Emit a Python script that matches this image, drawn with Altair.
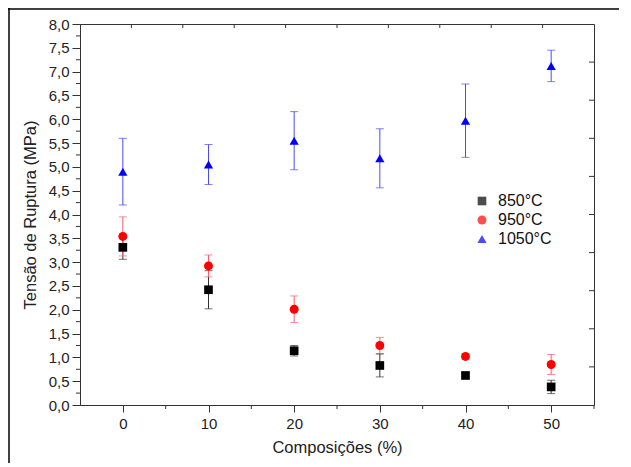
import altair as alt
import pandas as pd

# ---- data ----
comp = [0, 10, 20, 30, 40, 50]
series = ["850°C", "950°C", "1050°C"]
t850 = [3.31, 2.42, 1.14, 0.83, 0.62, 0.38]
e850 = [0.25, 0.40, 0.11, 0.24, 0.05, 0.14]
t950 = [3.54, 2.92, 2.01, 1.25, 1.02, 0.85]
e950 = [0.41, 0.23, 0.28, 0.17, 0.06, 0.21]
t1050 = [4.90, 5.05, 5.55, 5.18, 5.97, 7.12]
e1050 = [0.70, 0.42, 0.61, 0.62, 0.77, 0.33]

x_major = [0, 10, 20, 30, 40, 50]
x_minor = [5, 15, 25, 35, 45, 55]
x_top = [1, 7, 13, 19, 25, 31, 37, 43, 49]
y_major = [i * 0.5 for i in range(17)]
y_minor = [0.25 + i * 0.5 for i in range(16)]
y_right = [0.8, 1.6, 2.4, 3.2, 4.0, 4.8, 5.6, 6.4, 7.2]

marker_colors = ["#000000", "#ff0000", "#0000ff"]
bar_colors = ["#333333", "#ff5a6e", "#4a4aff"]
shapes = ["square", "circle", "triangle-up"]
marker_sizes = [75, 85, 115]

rows = []
for name, vals, errs, bc in [
    (series[0], t850, e850, bar_colors[0]),
    (series[1], t950, e950, bar_colors[1]),
    (series[2], t1050, e1050, bar_colors[2]),
]:
    for c, v, e in zip(comp, vals, errs):
        rows.append({"serie": name, "comp": c, "val": v, "lo": v - e, "hi": v + e, "bcol": bc})
df = pd.DataFrame(rows)

FONT = "Liberation Sans"
W, H = 514, 381

xs = alt.Scale(domain=[-5, 55], nice=False, zero=False)
ys = alt.Scale(domain=[0, 8], nice=False, zero=False)

base = alt.Chart(df)

x_axis = alt.Axis(values=x_major, format="d", tickSize=7, labelPadding=4, labelFontSize=15,
                  title="Composições (%)", titleFontSize=16.5, titlePadding=8, titleFontWeight="normal",
                  grid=False, domainColor="#333333", tickColor="#333333", labelOverlap=False)
y_axis = alt.Axis(values=y_major, tickSize=8, labelPadding=3, labelFontSize=15,
                  labelExpr="replace(format(datum.value, '.1f'), '.', ',')",
                  title="Tensão de Ruptura (MPa)", titleFontSize=16.5, titlePadding=10,
                  titleFontWeight="normal", grid=False, domainColor="#333333", tickColor="#333333",
                  labelOverlap=False)


def X(f):
    return alt.X(f, scale=xs, axis=x_axis, title="Composições (%)")


def Y(f):
    return alt.Y(f, scale=ys, axis=y_axis, title="Tensão de Ruptura (MPa)")


bars = base.mark_rule(strokeWidth=1).encode(
    x=X("comp:Q"), y=Y("lo:Q"), y2="hi:Q",
    color=alt.Color("bcol:N", scale=None),
)
cap_lo = base.mark_tick(orient="horizontal", size=8, thickness=1).encode(
    x=X("comp:Q"), y=Y("lo:Q"), color=alt.Color("bcol:N", scale=None))
cap_hi = base.mark_tick(orient="horizontal", size=8, thickness=1).encode(
    x=X("comp:Q"), y=Y("hi:Q"), color=alt.Color("bcol:N", scale=None))

points = base.mark_point(filled=True, opacity=1).encode(
    x=X("comp:Q"),
    y=Y("val:Q"),
    color=alt.Color("serie:N", scale=alt.Scale(domain=series, range=marker_colors),
                    legend=alt.Legend(title=None, orient="none", legendX=394, legendY=169,
                                      labelFontSize=16, labelFont=FONT, labelColor="#111111",
                                      symbolSize=60, rowPadding=3, labelOffset=8)),
    shape=alt.Shape("serie:N", scale=alt.Scale(domain=series, range=shapes)),
    size=alt.Size("serie:N", scale=alt.Scale(domain=series, range=marker_sizes), legend=None),
)

# minor / mirrored ticks
xminor = alt.Chart(pd.DataFrame({"v": x_minor})).mark_rule(color="#333333").encode(
    x=X("v:Q"), y=alt.value(H), y2=alt.value(H + 4))
xtop = alt.Chart(pd.DataFrame({"v": x_top})).mark_rule(color="#333333").encode(
    x=X("v:Q"), y=alt.value(0), y2=alt.value(4))
yminor = alt.Chart(pd.DataFrame({"v": y_minor})).mark_rule(color="#333333").encode(
    y=Y("v:Q"), x=alt.value(-4), x2=alt.value(0))
yright = alt.Chart(pd.DataFrame({"v": y_right})).mark_rule(color="#333333").encode(
    y=Y("v:Q"), x=alt.value(W - 5), x2=alt.value(W))

# outer figure border (left and top)
border_left = alt.Chart(pd.DataFrame({"a": [0]})).mark_rule(color="#000000", strokeWidth=1.5).encode(
    x=alt.value(-71), y=alt.value(-16), y2=alt.value(443))
border_top = alt.Chart(pd.DataFrame({"a": [0]})).mark_rule(color="#000000", strokeWidth=1.5).encode(
    y=alt.value(-15), x=alt.value(-72), x2=alt.value(551))

chart = alt.layer(
    bars, cap_lo, cap_hi, points, xminor, xtop, yminor, yright, border_left, border_top
).properties(
    width=W, height=H,
    autosize=alt.AutoSizeParams(type="none"),
    padding={"left": 72, "top": 16, "right": 25, "bottom": 58},
).configure_view(
    stroke="#333333", strokeWidth=1
).configure_axis(
    labelFont=FONT, titleFont=FONT, labelColor="#222222", titleColor="#222222"
)

chart.save("out.html", embed_options={"renderer": "svg", "actions": False})
